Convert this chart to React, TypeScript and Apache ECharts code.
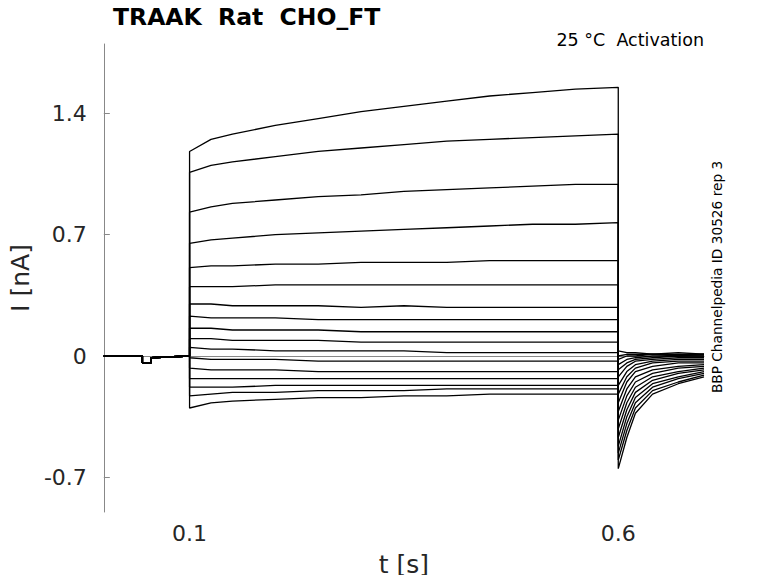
import React, { useEffect, useRef } from 'react';
import * as echarts from 'echarts';

// time points of the step (s)
const stepTimes = [0.1, 0.125, 0.15, 0.2, 0.25, 0.3, 0.35, 0.4, 0.45, 0.5, 0.55, 0.6];
// time points of the tail after the step (s)
const tailTimes = [0.6, 0.61, 0.62, 0.64, 0.67, 0.7];
// holding segment before the step
const preTrace = [
  [0, 0], [0.045, 0], [0.045, -0.04], [0.055, -0.04], [0.055, -0.01], [0.1, 0],
];

// current during the step (nA), one row per sweep
const stepValues = [
  [1.18, 1.25, 1.28, 1.33, 1.37, 1.41, 1.44, 1.47, 1.5, 1.52, 1.54, 1.55],
  [1.06, 1.1, 1.12, 1.15, 1.18, 1.2, 1.22, 1.24, 1.25, 1.26, 1.27, 1.28],
  [0.83, 0.86, 0.88, 0.9, 0.92, 0.93, 0.95, 0.96, 0.97, 0.98, 0.99, 0.99],
  [0.65, 0.67, 0.68, 0.7, 0.71, 0.72, 0.73, 0.74, 0.75, 0.76, 0.76, 0.77],
  [0.51, 0.52, 0.52, 0.53, 0.53, 0.54, 0.54, 0.54, 0.55, 0.55, 0.55, 0.55],
  [0.4, 0.4, 0.4, 0.41, 0.41, 0.41, 0.41, 0.41, 0.41, 0.41, 0.41, 0.41],
  [0.3, 0.3, 0.29, 0.29, 0.29, 0.28, 0.29, 0.28, 0.28, 0.28, 0.28, 0.28],
  [0.23, 0.22, 0.22, 0.22, 0.21, 0.21, 0.21, 0.21, 0.21, 0.21, 0.21, 0.21],
  [0.16, 0.16, 0.15, 0.15, 0.15, 0.14, 0.14, 0.14, 0.14, 0.14, 0.14, 0.14],
  [0.1, 0.1, 0.09, 0.09, 0.09, 0.08, 0.08, 0.08, 0.08, 0.08, 0.08, 0.08],
  [0.05, 0.04, 0.04, 0.03, 0.03, 0.03, 0.03, 0.02, 0.02, 0.02, 0.02, 0.02],
  [-0.01, -0.02, -0.02, -0.02, -0.03, -0.03, -0.03, -0.03, -0.03, -0.03, -0.03, -0.03],
  [-0.07, -0.08, -0.08, -0.08, -0.09, -0.09, -0.09, -0.09, -0.09, -0.09, -0.09, -0.09],
  [-0.13, -0.13, -0.13, -0.13, -0.13, -0.13, -0.13, -0.13, -0.13, -0.13, -0.13, -0.13],
  [-0.18, -0.18, -0.18, -0.17, -0.17, -0.17, -0.17, -0.17, -0.17, -0.17, -0.17, -0.17],
  [-0.23, -0.22, -0.21, -0.21, -0.2, -0.2, -0.2, -0.19, -0.19, -0.19, -0.19, -0.19],
  [-0.3, -0.27, -0.26, -0.25, -0.24, -0.24, -0.23, -0.23, -0.22, -0.22, -0.22, -0.22],
];

// tail current after the step (nA)
const tailValues = [
  [0.03, 0.02, 0.02, 0.01, 0.02, 0.01],
  [0.0, 0.01, 0.01, 0.01, 0.01, 0.01],
  [-0.02, 0.0, 0.0, 0.01, 0.0, 0.01],
  [-0.05, -0.02, -0.01, 0, 0, 0],
  [-0.08, -0.04, -0.02, -0.01, 0, 0],
  [-0.12, -0.06, -0.03, -0.02, -0.01, -0.01],
  [-0.17, -0.09, -0.05, -0.03, -0.02, -0.02],
  [-0.22, -0.12, -0.07, -0.04, -0.03, -0.03],
  [-0.27, -0.15, -0.09, -0.06, -0.04, -0.04],
  [-0.32, -0.19, -0.12, -0.08, -0.06, -0.05],
  [-0.37, -0.23, -0.15, -0.1, -0.07, -0.06],
  [-0.42, -0.27, -0.18, -0.12, -0.09, -0.07],
  [-0.47, -0.31, -0.21, -0.14, -0.1, -0.08],
  [-0.52, -0.35, -0.24, -0.16, -0.12, -0.09],
  [-0.56, -0.39, -0.27, -0.18, -0.13, -0.1],
  [-0.6, -0.43, -0.3, -0.2, -0.15, -0.11],
  [-0.65, -0.47, -0.33, -0.22, -0.16, -0.12],
];

const xTicks = [0.1, 0.6];
const yTicks = [-0.7, 0, 0.7, 1.4];

const font = 'DejaVu Sans';

const Chart = () => {
  const chartRef = useRef(null);

  useEffect(() => {
    if (!chartRef.current) return;
    const chart = echarts.init(chartRef.current, null, { renderer: 'svg' });

    const series = stepValues.map((row, i) => ({
      type: 'line',
      showSymbol: false,
      lineStyle: { color: '#000', width: 1.3 },
      data: [
        ...preTrace,
        ...row.map((v, j) => [stepTimes[j], v]),
        ...tailValues[i].map((v, j) => [tailTimes[j], v]),
      ],
    }));

    chart.setOption({
      animation: false,
      grid: { left: 101, right: 74, top: 44, bottom: 71 },
      title: [
        { text: 'TRAAK  Rat  CHO_FT', left: 113, top: 5, padding: 0, textStyle: { fontFamily: font, fontSize: 23.5, fontWeight: 'bold', color: '#000' } },
        { text: '25 °C  Activation', right: 74, top: 31, padding: 0, textStyle: { fontFamily: font, fontSize: 17.5, fontWeight: 'normal', color: '#000' } },
      ],
      graphic: [
        {
          type: 'text', x: 717, y: 277, rotation: Math.PI / 2,
          style: { text: 'BBP Channelpedia ID 30526 rep 3', font: `13.7px "${font}"`, fill: '#000', align: 'center', verticalAlign: 'middle' },
        },
      ],
      xAxis: {
        type: 'value', min: 0, max: 0.7,
        name: 't [s]', nameLocation: 'middle', nameGap: 40,
        nameTextStyle: { fontFamily: font, fontSize: 25, color: '#262626' },
        axisLine: { lineStyle: { color: '#888' } },
        axisTick: { inside: true, length: 6, lineStyle: { color: '#888' }, customValues: xTicks },
        axisLabel: { fontFamily: font, fontSize: 22, color: '#262626', margin: 10, customValues: xTicks, formatter: (v) => String(v) },
        splitLine: { show: false },
      },
      yAxis: {
        type: 'value', min: -0.9, max: 1.8,
        name: 'I [nA]', nameLocation: 'middle', nameGap: 57,
        nameTextStyle: { fontFamily: font, fontSize: 25, color: '#262626' },
        axisLine: { show: true, lineStyle: { color: '#888' } },
        axisTick: { show: true, inside: true, length: 6, lineStyle: { color: '#888' }, customValues: yTicks },
        axisLabel: { fontFamily: font, fontSize: 22, color: '#262626', margin: 17, customValues: yTicks, formatter: (v) => String(v) },
        splitLine: { show: false },
      },
      series,
    });

    return () => chart.dispose();
  }, []);

  return <div ref={chartRef} style={{ width: 778, height: 583 }} />;
};

export default function App() {
  return (
    <div style={{ margin: -8 }}>
      <Chart />
    </div>
  );
}
